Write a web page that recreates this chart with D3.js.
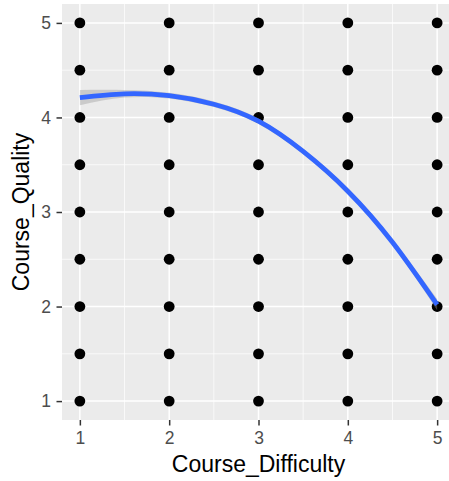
<!DOCTYPE html>
<html>
<head>
<meta charset="utf-8">
<script src="https://cdn.jsdelivr.net/npm/d3@7"></script>
<style>
  body { margin: 0; background: #fff; }
  svg { display: block; font-family: "Liberation Sans", Arial, sans-serif; }
</style>
</head>
<body>
<svg id="chart"></svg>
<script>
// data
const difficulty = [1, 2, 3, 4, 5];
const quality = [1, 1.5, 2, 2.5, 3, 3.5, 4, 4.5, 5];

// smoother (loess) fit and its confidence band
const fitX = [1, 1.5, 2, 2.5, 3, 3.5, 4, 4.5, 5];
const fitY = [4.21, 4.25, 4.23, 4.14, 3.96, 3.64, 3.22, 2.68, 2.02];
const fitLo = [4.13, 4.21, 4.20, 4.11, 3.93, 3.61, 3.19, 2.65, 1.96];
const fitHi = [4.29, 4.29, 4.26, 4.17, 3.99, 3.67, 3.25, 2.71, 2.08];

const xTicks = [1, 2, 3, 4, 5];
const yTicks = [1, 2, 3, 4, 5];

const width = 449, height = 481;
const margin = { top: 4, right: -6, bottom: 61, left: 62 };
const innerW = width - margin.left - margin.right;
const innerH = height - margin.top - margin.bottom;

const svg = d3.select('#chart')
    .attr('width', width)
    .attr('height', height);

const g = svg.append('g')
    .attr('transform', 'translate(' + margin.left + ',' + margin.top + ')');

// scales with ggplot's 5% expansion
const x = d3.scaleLinear().domain([0.8, 5.2]).range([0, innerW]);
const y = d3.scaleLinear().domain([0.8, 5.2]).range([innerH, 0]);

// panel background
g.append('rect')
    .attr('width', innerW)
    .attr('height', innerH)
    .attr('fill', '#EBEBEB');

// minor grid
const minor = [1.5, 2.5, 3.5, 4.5];
g.selectAll('.vminor').data(minor).enter().append('line')
    .attr('x1', d => x(d)).attr('x2', d => x(d))
    .attr('y1', 0).attr('y2', innerH)
    .attr('stroke', '#fff').attr('stroke-width', 0.7);
g.selectAll('.hminor').data(minor).enter().append('line')
    .attr('y1', d => y(d)).attr('y2', d => y(d))
    .attr('x1', 0).attr('x2', innerW)
    .attr('stroke', '#fff').attr('stroke-width', 0.7);

// major grid
g.selectAll('.vmajor').data(xTicks).enter().append('line')
    .attr('x1', d => x(d)).attr('x2', d => x(d))
    .attr('y1', 0).attr('y2', innerH)
    .attr('stroke', '#fff').attr('stroke-width', 1.5);
g.selectAll('.hmajor').data(yTicks).enter().append('line')
    .attr('y1', d => y(d)).attr('y2', d => y(d))
    .attr('x1', 0).attr('x2', innerW)
    .attr('stroke', '#fff').attr('stroke-width', 1.5);

// points
const points = [];
difficulty.forEach(function (dx) {
    quality.forEach(function (q) { points.push({ x: dx, y: q }); });
});
g.selectAll('circle').data(points).enter().append('circle')
    .attr('cx', d => x(d.x))
    .attr('cy', d => y(d.y))
    .attr('r', 5.4)
    .attr('fill', '#000');

// confidence band
const fit = fitX.map((d, i) => ({ x: d, y: fitY[i], lo: fitLo[i], hi: fitHi[i] }));
g.append('path')
    .datum(fit)
    .attr('fill', '#999999')
    .attr('fill-opacity', 0.4)
    .attr('d', d3.area()
        .curve(d3.curveNatural)
        .x(d => x(d.x))
        .y0(d => y(d.lo))
        .y1(d => y(d.hi)));

// smooth line
g.append('path')
    .datum(fit)
    .attr('fill', 'none')
    .attr('stroke', '#3366FF')
    .attr('stroke-width', 4.8)
    .attr('d', d3.line()
        .curve(d3.curveNatural)
        .x(d => x(d.x))
        .y(d => y(d.y)));

// axes
const xAxis = g.append('g')
    .attr('transform', 'translate(0,' + innerH + ')')
    .call(d3.axisBottom(x).tickValues(xTicks).tickSize(5.5).tickPadding(6.5).tickFormat(d3.format('d')));
const yAxis = g.append('g')
    .call(d3.axisLeft(y).tickValues(yTicks).tickSize(5.5).tickPadding(5.5).tickFormat(d3.format('d')));

[xAxis, yAxis].forEach(function (a) {
    a.attr('font-size', null).attr('font-family', null);
    a.select('.domain').remove();
    a.selectAll('line').attr('stroke', '#333').attr('stroke-width', 1.5);
    a.selectAll('text')
        .attr('fill', '#4D4D4D')
        .style('font-size', '17.5px');
});

// axis titles
svg.append('text')
    .attr('x', margin.left + x(3))
    .attr('y', 471.5)
    .attr('text-anchor', 'middle')
    .style('font-size', '23px')
    .attr('fill', '#000')
    .text('Course_Difficulty');

svg.append('text')
    .attr('transform', 'translate(28.5,' + (margin.top + innerH / 2) + ') rotate(-90)')
    .attr('text-anchor', 'middle')
    .style('font-size', '23px')
    .attr('fill', '#000')
    .text('Course_Quality');
</script>
</body>
</html>
